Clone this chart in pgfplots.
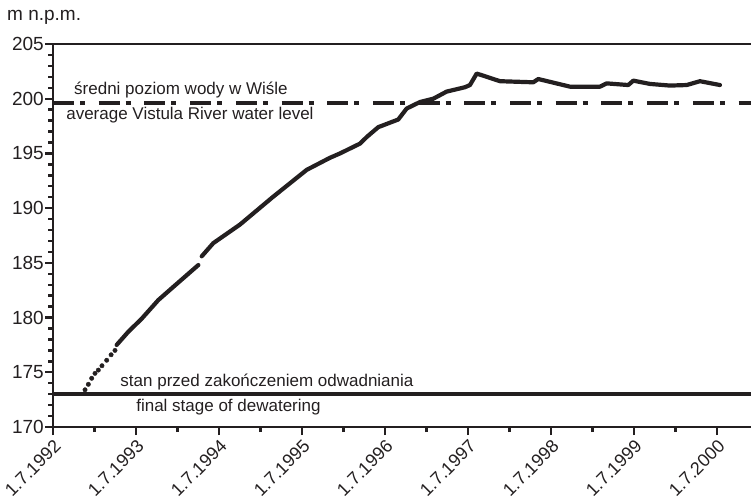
\documentclass[border=0pt]{standalone}
\usepackage{fontspec}
\setmainfont{Liberation Sans}
\usepackage{pgfplots}
\pgfplotsset{compat=1.18}
\definecolor{ink}{HTML}{231F20}
\newcommand{\lbl}{\fontsize{17}{20}\selectfont}
\newcommand{\tck}{\fontsize{18}{21}\selectfont}
\newcommand{\ytck}{\fontsize{19}{22}\selectfont}

\begin{document}
\begin{tikzpicture}
\begin{axis}[
  scale only axis,
  width=698pt, height=383pt,
  xmin=0, xmax=8.41,
  ymin=170, ymax=205,
  axis x line=box, axis y line=left,
  axis line style={-, line width=2.4pt, draw=ink},
  xtick={0,1,...,8},
  xticklabels={1.7.1992,1.7.1993,1.7.1994,1.7.1995,1.7.1996,1.7.1997,1.7.1998,1.7.1999,1.7.2000},
  minor x tick num=1,
  ytick={170,175,...,205},
  minor y tick num=4,
  xtick pos=left, ytick pos=left,
  tick align=outside,
  major tick length=8pt, minor tick length=5pt,
  every tick/.style={line width=2.4pt, draw=ink},
  /pgf/number format/assume math mode=true,
  yticklabel style={font=\ytck, text=ink, inner xsep=1pt},
  xticklabel style={font=\tck, text=ink, inner sep=2.5pt, rotate=45, anchor=north east},
  clip=false,
]
% reference levels
\addplot[ink, line width=3.6pt] coordinates {(0,173) (8.41,173)};
\addplot[ink, line width=3.8pt, dash pattern=on 21pt off 6pt on 5pt off 13.7pt]
  coordinates {(0,199.6) (8.41,199.6)};

% groundwater level: first sparse readings
\addplot[only marks, mark=*, mark size=2.2pt, ink] coordinates {
  (0.386,173.4) (0.426,173.9) (0.466,174.45) (0.506,174.9) (0.546,175.2)
  (0.590,175.6) (0.647,176.1) (0.700,176.6) (0.747,177.0)
};
% continuous record
\addplot[ink, line width=4.2pt, line cap=round, line join=round] coordinates {
  (0.767,177.5) (0.907,178.7) (1.069,179.9) (1.269,181.6) (1.449,182.8) (1.751,184.8)
};
\addplot[ink, line width=4.2pt, line cap=round, line join=round] coordinates {
  (1.792,185.6) (1.931,186.8) (2.253,188.5) (2.473,189.9) (2.654,191.05)
  (3.057,193.5) (3.337,194.6) (3.458,195.0) (3.700,195.9) (3.780,196.5)
  (3.919,197.4) (4.160,198.1) (4.261,199.1) (4.422,199.7) (4.582,200.0)
  (4.743,200.65) (4.964,201.05) (5.024,201.25) (5.105,202.3) (5.265,201.9)
  (5.386,201.6) (5.787,201.5) (5.847,201.8) (6.229,201.1) (6.590,201.1)
  (6.671,201.4) (6.931,201.25) (6.992,201.65) (7.193,201.35) (7.434,201.2)
  (7.635,201.25) (7.795,201.6) (8.036,201.25)
};

\node[font=\lbl, text=ink, anchor=base] at (axis cs:1.542,200.35) {średni poziom wody w Wiśle};
\node[font=\lbl, text=ink, anchor=base] at (axis cs:1.65,198.06) {average Vistula River water level};
\node[font=\lbl, text=ink, anchor=base] at (axis cs:2.578,173.66) {stan przed zakończeniem odwadniania};
\node[font=\lbl, text=ink, anchor=base] at (axis cs:2.114,171.46) {final stage of dewatering};

\coordinate (O) at (rel axis cs:0,0);
\end{axis}
\node[font=\ytck, text=ink, anchor=base west, inner sep=0pt] at ([shift={(-46pt,406pt)}]O) {m n.p.m.};
\pgfresetboundingbox
\path ([shift={(-53pt,-73pt)}]O) rectangle ([shift={(698pt,427pt)}]O);
\end{tikzpicture}
\end{document}
